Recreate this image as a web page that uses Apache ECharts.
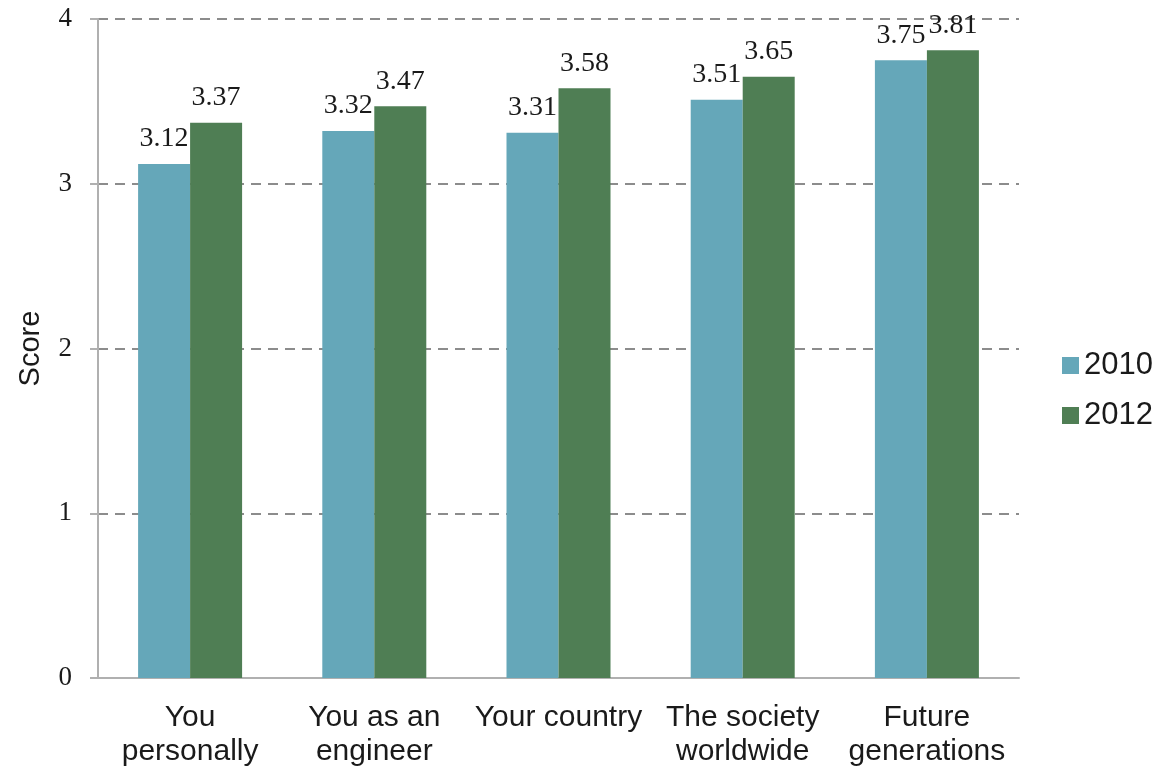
<!DOCTYPE html>
<html>
<head>
<meta charset="utf-8">
<script src="https://cdn.jsdelivr.net/npm/echarts@6/dist/echarts.min.js"></script>
<style>
html,body{margin:0;padding:0;background:#fff;}
#chart{width:1169px;height:769px;}
</style>
</head>
<body>
<div id="chart"></div>
<script>
// Scores by category for the two survey years
const categories = ['You\npersonally', 'You as an\nengineer', 'Your country', 'The society\nworldwide', 'Future\ngenerations'];
const scores2010 = [3.12, 3.32, 3.31, 3.51, 3.75];
const scores2012 = [3.37, 3.47, 3.58, 3.65, 3.81];
const seriesNames = ['2010', '2012'];
const yTicks = [0, 1, 2, 3, 4];

const chart = echarts.init(document.getElementById('chart'));

const sans = '"Liberation Sans", Arial, sans-serif';
const serif = '"Liberation Serif", "Times New Roman", serif';

const labelStyle = {
  show: true,
  position: 'top',
  distance: 11,
  fontFamily: serif,
  fontSize: 28,
  color: '#1a1a1a'
};

chart.setOption({
  animation: false,
  backgroundColor: '#fff',
  grid: { left: 98, right: 150, top: 19, bottom: 91, containLabel: false },
  legend: {
    orient: 'vertical',
    left: 1057,
    top: 345,
    itemWidth: 17,
    itemHeight: 17,
    itemGap: 19,
    icon: 'rect',
    textStyle: {
      fontFamily: sans,
      fontSize: 31,
      color: '#1a1a1a'
    },
    data: seriesNames
  },
  xAxis: {
    type: 'category',
    data: categories,
    axisLine: { show: true, lineStyle: { color: '#b0b0b0', width: 2 } },
    axisTick: { show: false },
    axisLabel: {
      interval: 0,
      margin: 23,
      lineHeight: 34,
      fontFamily: sans,
      fontSize: 30,
      color: '#1a1a1a'
    }
  },
  yAxis: {
    type: 'value',
    min: 0,
    max: 4,
    interval: 1,
    name: 'Score',
    nameLocation: 'middle',
    nameGap: 53,
    nameRotate: 90,
    nameTextStyle: {
      fontFamily: sans,
      fontSize: 29,
      color: '#1a1a1a'
    },
    axisLine: { show: true, lineStyle: { color: '#b0b0b0', width: 2 } },
    axisTick: { show: true, inside: false, length: 8, lineStyle: { color: '#b0b0b0', width: 2 } },
    axisLabel: {
      margin: 26,
      fontFamily: serif,
      fontSize: 27,
      color: '#1a1a1a',
      formatter: v => yTicks.includes(v) ? String(v) : ''
    },
    splitLine: {
      show: true,
      lineStyle: { color: '#8c8c8c', width: 2, type: [10, 7] }
    }
  },
  series: [
    {
      name: seriesNames[0],
      type: 'bar',
      data: scores2010,
      barWidth: 52,
      barGap: '0%',
      itemStyle: { color: '#65a7b9' },
      label: labelStyle
    },
    {
      name: seriesNames[1],
      type: 'bar',
      data: scores2012,
      barWidth: 52,
      barGap: '0%',
      itemStyle: { color: '#4f7e54' },
      label: labelStyle
    }
  ]
});
</script>
</body>
</html>
